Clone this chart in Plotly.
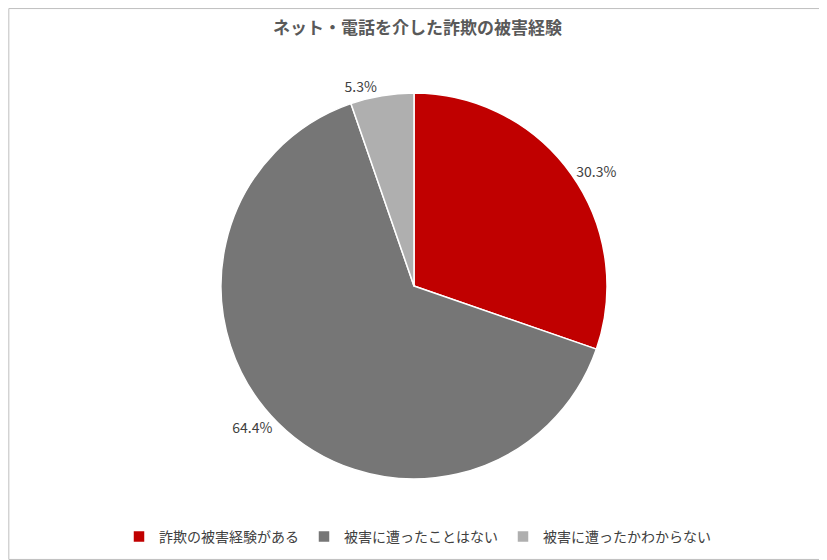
import plotly.graph_objects as go

labels = ["詐欺の被害経験がある", "被害に遭ったことはない", "被害に遭ったかわからない"]
values = [30.3, 64.4, 5.3]
colors = ["#C00000", "#767676", "#AFAFAF"]

O = 8
W, H = 827 - O, 560 - O
def px(x): return (x - O) / W
def py(y): return 1 - (y - O) / H

fig = go.Figure(go.Pie(
    labels=labels, values=values, sort=False, direction="clockwise", rotation=0,
    marker=dict(colors=colors, line=dict(color="white", width=1.5)),
    texttemplate="%{value:.1f}%", textposition="outside",
    textfont=dict(size=14, color="#404040"),
    domain=dict(x=[px(221), px(607)], y=[py(479), py(93)]),
    hoverinfo="none",
))
fig.update_layout(
    width=W, height=H, margin=dict(l=0, r=0, t=0, b=0),
    paper_bgcolor="white", plot_bgcolor="white",
    font=dict(family="Noto Sans CJK JP, sans-serif", color="#404040"),
    title=dict(text="<b>ネット・電話を介した詐欺の被害経験</b>", x=0.5, xanchor="center",
               y=py(28), yanchor="middle", font=dict(size=17, color="#595959")),
    legend=dict(orientation="h", x=0.5, xanchor="center", y=py(537), yanchor="middle",
                font=dict(size=14, color="#404040"), itemwidth=30),
    showlegend=True,
    shapes=[dict(type="rect", xref="paper", yref="paper", x0=0.001, y0=0.001, x1=0.999, y1=0.999,
                 line=dict(color="#BFBFBF", width=1))],
)
fig.write_html("out.html")
